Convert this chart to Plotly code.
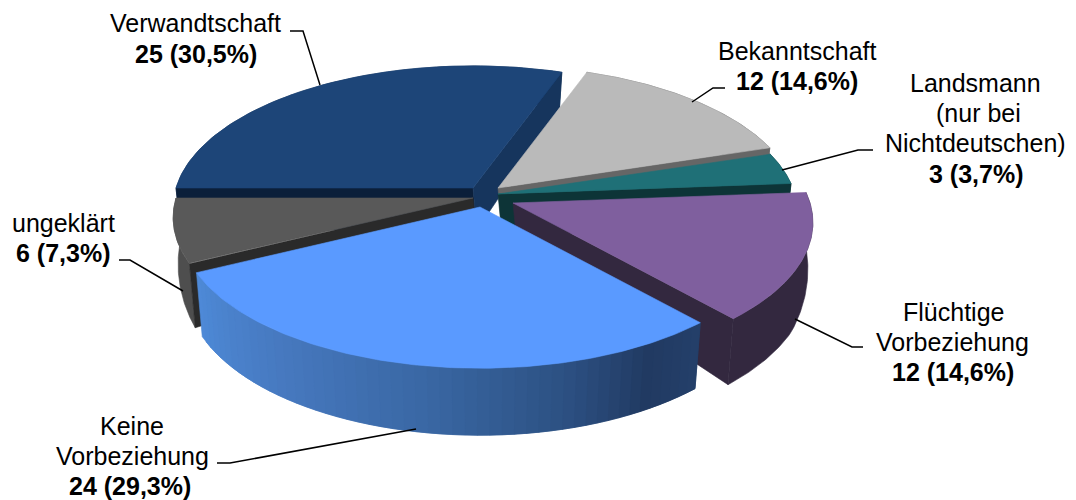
import numpy as np
import plotly.graph_objects as go

# ---- data ----
categories = ["Verwandtschaft", "Bekanntschaft", "Landsmann (nur bei Nichtdeutschen)",
              "Flüchtige Vorbeziehung", "Keine Vorbeziehung", "ungeklärt"]
values = [25, 12, 3, 12, 24, 6]
percent_labels = ["25 (30,5%)", "12 (14,6%)", "3 (3,7%)", "12 (14,6%)", "24 (29,3%)", "6 (7,3%)"]

# ---- styling / projection parameters ----
top_colors = ["#1d4578", "#bababa", "#1f7077", "#7f5f9e", "#5a9aff", "#595959"]
start_wall = ["#0b1f3a", "#777777", "#0d3437", "#33283f", "#223d68", "#2a2a2a"]
end_wall = ["#16355d", "#666666", "#0d3437", "#33283f", "#223d68", "#2a2a2a"]
side_colors = ["#16355d", "#666666", "#0d3437", "#33283f", None, "#4e4e4e"]
apexes = [(473, 188), (498, 188), (498, 194), (513, 203), (480, 207), (473, 198)]
draw_order = [0, 1, 2, 3, 5, 4]
RX, RY, K = 297, 139, 0.138
APEX_DEPTH = 42
START_ANGLE = 180.0


def rim(apex, a_deg, lower=False):
    a = np.radians(a_deg)
    s = 1 / (1 + K * np.sin(a))
    dx = RX * np.cos(a) * s
    dy = -RY * np.sin(a) * s
    if lower:
        depth = np.interp(np.sin(a), [-1, -0.75, -0.44, 0, 1], [67, 66, 64, 42, 35])
        scale = 0.985 - 0.012 * np.abs(np.sin(a))
        return apex[0] + scale * dx, apex[1] + dy + depth
    return apex[0] + dx, apex[1] + dy


def poly(fig, xs, ys, color):
    xs, ys = list(xs), list(ys)
    fig.add_trace(go.Scatter(
        x=xs + [xs[0]], y=ys + [ys[0]], mode="lines", fill="toself",
        fillcolor=color, line=dict(color=color, width=0.6),
        hoverinfo="skip", showlegend=False))


def blue_side(a_deg):
    stops = [-154, -125, -100, -75, -60, -48]
    r = np.interp(a_deg, stops, [78, 70, 58, 44, 33, 36])
    g = np.interp(a_deg, stops, [138, 120, 104, 80, 58, 64])
    b = np.interp(a_deg, stops, [216, 190, 165, 130, 98, 106])
    return f"rgb({r:.0f},{g:.0f},{b:.0f})"


fig = go.Figure()

total = sum(values)
edges = [START_ANGLE]
for v in values:
    edges.append(edges[-1] - 360.0 * v / total)

for i in draw_order:
    apex = apexes[i]
    a0, a1 = edges[i], edges[i + 1]
    # outer side
    if side_colors[i] is None:
        n = 50
        angs = np.linspace(a1, a0, n + 1)  # right to left, each band overlaps the next
        for j in range(n):
            u = angs[j]
            w = angs[min(j + 2, n)]
            sa = np.linspace(u, w, 4)
            ux, uy = rim(apex, sa)
            lx, ly = rim(apex, sa[::-1], lower=True)
            poly(fig, list(ux) + list(lx), list(uy) + list(ly),
                 blue_side((angs[j] + angs[j + 1]) / 2))
    else:
        sa = np.linspace(a0, a1, 80)
        ux, uy = rim(apex, sa)
        lx, ly = rim(apex, sa[::-1], lower=True)
        poly(fig, list(ux) + list(lx), list(uy) + list(ly), side_colors[i])
    # radial walls that face the viewer
    if np.cos(np.radians(a0)) < -1e-6:
        tx, ty = rim(apex, a0)
        bx, by = rim(apex, a0, lower=True)
        poly(fig, [apex[0], tx, bx, apex[0] + 4], [apex[1], ty, by, apex[1] + APEX_DEPTH], start_wall[i])
    if np.cos(np.radians(a1)) > 1e-6:
        tx, ty = rim(apex, a1)
        bx, by = rim(apex, a1, lower=True)
        poly(fig, [apex[0], tx, bx, apex[0] + 4], [apex[1], ty, by, apex[1] + APEX_DEPTH], end_wall[i])
    # top face
    fine = np.linspace(a0, a1, 120)
    xs, ys = rim(apex, fine)
    poly(fig, [apex[0]] + list(xs), [apex[1]] + list(ys), top_colors[i])

# ---- leader lines ----
leaders = [
    ([290, 303, 320], [31, 31, 85]),
    ([725, 713, 692], [88, 88, 102]),
    ([873, 858, 782], [150, 150, 170]),
    ([863, 852, 795], [347, 347, 319]),
    ([217, 230, 416], [463, 463, 429]),
    ([119, 130, 183], [260, 260, 291]),
]
for lx, ly in leaders:
    fig.add_trace(go.Scatter(x=lx, y=ly, mode="lines", line=dict(color="black", width=1.5),
                             hoverinfo="skip", showlegend=False))

# ---- labels ----
FONT = "Liberation Sans, Arial, sans-serif"
FONT_SIZE = 25
BASELINE_OFFSET = 8.6
label_lines = [
    ("Verwandtschaft", 195.5, 32, False),
    (percent_labels[0], 195.5, 63, True),
    ("Bekanntschaft", 796.5, 60, False),
    (percent_labels[1], 796.5, 90, True),
    ("Landsmann", 975.5, 92, False),
    ("(nur bei", 978, 122, False),
    ("Nichtdeutschen)", 975, 152, False),
    (percent_labels[2], 975.5, 183, True),
    ("Flüchtige", 953, 321, False),
    ("Vorbeziehung", 952, 351, False),
    (percent_labels[3], 952.5, 381, True),
    ("Keine", 131.5, 435, False),
    ("Vorbeziehung", 132, 465, False),
    (percent_labels[4], 130, 495, True),
    ("ungeklärt", 63, 232, False),
    (percent_labels[5], 63, 262, True),
]
for text, x, baseline, bold in label_lines:
    fig.add_annotation(x=x, y=baseline - BASELINE_OFFSET,
                       text=f"<b>{text}</b>" if bold else text, showarrow=False,
                       xanchor="center", yanchor="middle",
                       font=dict(family=FONT, size=FONT_SIZE, color="black"))

fig.update_layout(
    width=1076, height=500, margin=dict(l=0, r=0, t=0, b=0),
    paper_bgcolor="white", plot_bgcolor="white", showlegend=False,
    xaxis=dict(range=[0, 1076], visible=False, fixedrange=True),
    yaxis=dict(range=[500, 0], visible=False, fixedrange=True),
)
fig.write_html("out.html", config={"displayModeBar": False},
               post_script="document.body.style.margin='0';document.documentElement.style.overflow='hidden';")
